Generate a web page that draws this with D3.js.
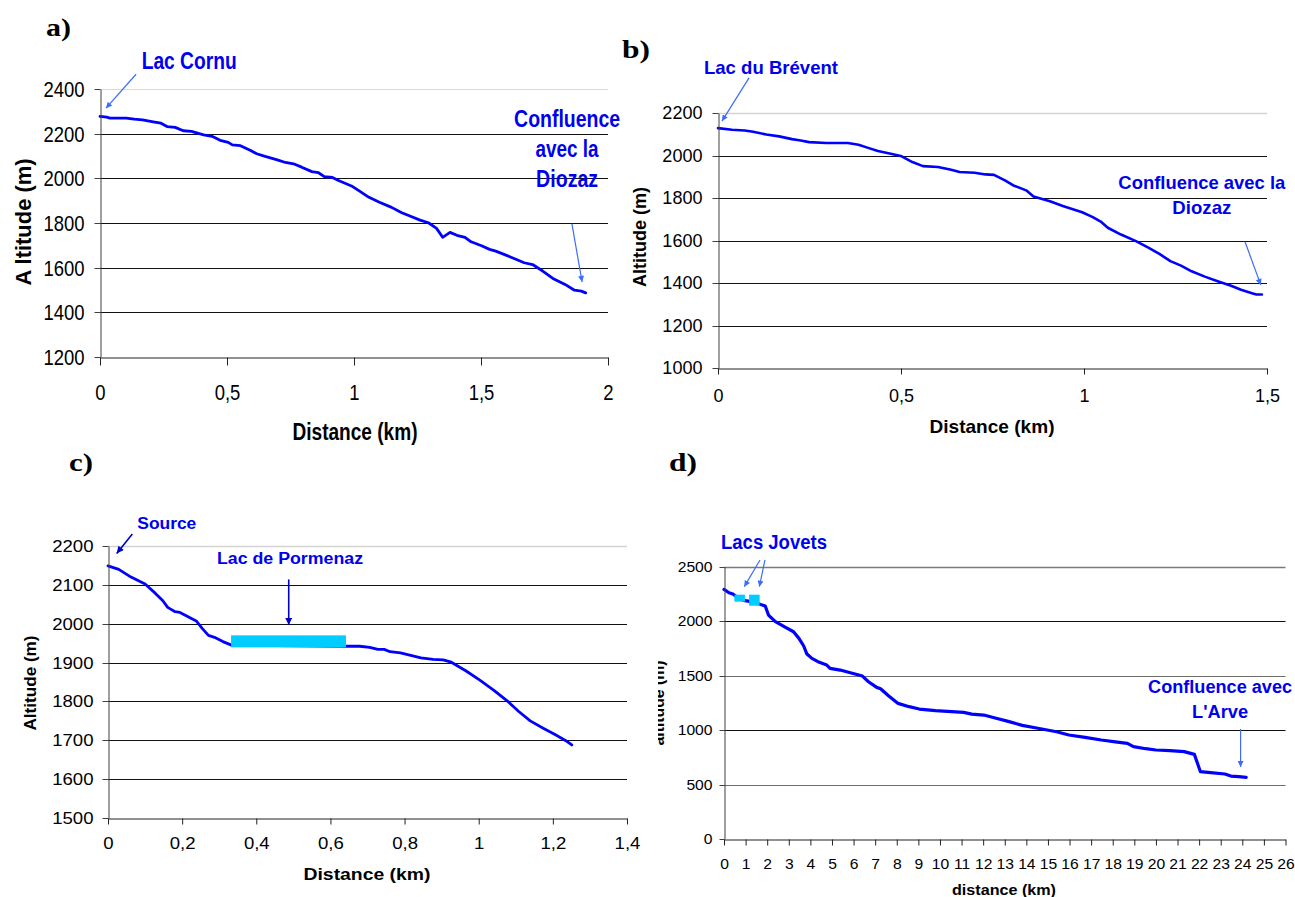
<!DOCTYPE html>
<html><head><meta charset="utf-8">
<script src="https://cdn.jsdelivr.net/npm/d3@7"></script>
<style>body{margin:0;background:#fff}svg{display:block}</style>
</head><body>
<svg id="chart" width="1295" height="897"></svg>
<script>
// ---------------- DATA ----------------
const distA = [0,0.026,0.039,0.103,0.135,0.167,0.215,0.240,0.264,0.296,0.328,0.360,0.408,0.441,0.473,0.505,0.521,0.553,0.593,0.617,0.650,0.698,0.730,0.762,0.794,0.834,0.859,0.883,0.915,0.939,0.990,1.019,1.059,1.100,1.148,1.188,1.220,1.260,1.293,1.325,1.349,1.378,1.405,1.437,1.461,1.502,1.534,1.558,1.598,1.630,1.670,1.703,1.743,1.783,1.831,1.868,1.895,1.912];
const altA  = [2277,2274,2270,2270,2265,2262,2252,2247,2232,2228,2213,2210,2195,2188,2170,2161,2150,2146,2125,2110,2098,2083,2071,2065,2050,2030,2026,2008,2004,1990,1966,1945,1915,1893,1870,1846,1831,1813,1801,1776,1736,1758,1745,1736,1716,1698,1682,1674,1656,1641,1622,1614,1585,1552,1525,1499,1495,1487];

const distB = [0,0.038,0.073,0.096,0.132,0.167,0.202,0.226,0.249,0.296,0.355,0.384,0.408,0.437,0.472,0.502,0.531,0.560,0.601,0.637,0.660,0.701,0.731,0.754,0.784,0.807,0.842,0.862,0.907,0.942,0.995,1.024,1.048,1.065,1.101,1.142,1.177,1.206,1.236,1.265,1.294,1.330,1.371,1.400,1.429,1.459,1.471,1.486];
const altB  = [2129,2121,2118,2112,2099,2090,2077,2071,2063,2059,2059,2051,2037,2021,2008,1996,1969,1950,1946,1933,1922,1919,1911,1909,1883,1859,1836,1807,1785,1762,1733,1710,1686,1660,1628,1597,1565,1537,1503,1482,1455,1430,1405,1388,1368,1352,1346,1346];

const distC = [0,0.029,0.062,0.100,0.128,0.148,0.161,0.181,0.194,0.216,0.238,0.254,0.271,0.287,0.310,0.333,0.643,0.679,0.706,0.728,0.745,0.761,0.789,0.811,0.844,0.877,0.904,0.926,0.965,1.003,1.042,1.081,1.108,1.139,1.174,1.207,1.235,1.251];
const altC  = [2149,2140,2120,2102,2078,2059,2042,2031,2029,2018,2007,1988,1970,1965,1954,1945,1942,1942,1939,1934,1934,1928,1925,1920,1912,1908,1907,1901,1879,1855,1828,1798,1774,1750,1731,1714,1699,1688];
const lakesC = [{d0:0.332, d1:0.642, a0:1939, a1:1970}];

const distD = [0,0.23,0.41,0.69,0.97,1.26,1.63,1.91,2.06,2.38,2.85,3.22,3.47,3.69,3.84,4.07,4.35,4.76,4.91,5.38,5.85,6.41,6.69,7.07,7.25,7.63,8.06,8.57,9.04,9.79,11.10,11.47,12.03,12.60,13.16,13.81,14.47,15.40,15.97,16.72,17.47,18.21,18.68,18.96,19.53,20.00,20.65,21.31,21.78,22.06,22.53,23.19,23.47,23.84,24.18];
const altD  = [2292,2261,2249,2209,2188,2179,2157,2139,2056,1995,1943,1903,1842,1772,1698,1658,1628,1597,1567,1551,1527,1496,1444,1392,1380,1313,1245,1215,1193,1178,1163,1147,1138,1108,1080,1043,1019,985,955,933,909,890,878,848,829,817,811,802,777,618,609,597,578,572,566];
const lakesD = [{d0:0.48, d1:0.97, a0:2179, a1:2243},{d0:1.16, d1:1.65, a0:2142, a1:2243}];

// tick values
const xTicksA = [0,0.5,1,1.5,2];
const yTicksA = [1200,1400,1600,1800,2000,2200,2400];
const xTicksB = [0,0.5,1,1.5];
const yTicksB = [1000,1200,1400,1600,1800,2000,2200];
const xTicksC = [0,0.2,0.4,0.6,0.8,1,1.2,1.4];
const yTicksC = [1500,1600,1700,1800,1900,2000,2100,2200];
const xTicksD = d3.range(0,27);
const yTicksD = [0,500,1000,1500,2000,2500];

// ---------------- DRAWING ----------------
const svg = d3.select('#chart');
const defs = svg.append('defs');
function addMarker(id,color,w,h){
  defs.append('marker').attr('id',id).attr('viewBox','0 0 10 10')
    .attr('refX',10).attr('refY',5).attr('markerWidth',w).attr('markerHeight',h)
    .attr('orient','auto').attr('markerUnits','userSpaceOnUse')
    .append('path').attr('d','M0,0 L10,5 L0,10 z').attr('fill',color);
}
addMarker('mLight','#3b6cff',8,6);
addMarker('mDark','#0000c8',9,7);

const comma = d => String(d).replace('.',',');
const FONT = 'Arial, "Liberation Sans", Helvetica, sans-serif';

function label(g, text, x, y, o){
  const t = g.append('text').attr('x',x).attr('y',y).text(text)
    .attr('font-family', o.family || FONT)
    .attr('font-size', o.size).attr('font-weight', o.weight || 'bold')
    .attr('fill', o.color || '#000')
    .attr('text-anchor', o.anchor || 'start');
  if (o.len) t.attr('textLength', o.len).attr('lengthAdjust','spacingAndGlyphs');
  if (o.rotate) t.attr('transform', `rotate(-90,${x},${y})`);
  return t;
}

function drawPanel(p){
  const g = svg.append('g');
  const x = d3.scaleLinear().domain(p.xDomain).range([p.L, p.R]);
  const y = d3.scaleLinear().domain(p.yDomain).range([p.B, p.T]);

  // gridlines
  g.append('g').selectAll('line').data(p.yTicks.filter(v => v !== p.yDomain[0])).join('line')
    .attr('x1', p.L).attr('x2', p.R)
    .attr('y1', d => Math.round(y(d))+0.5).attr('y2', d => Math.round(y(d))+0.5)
    .attr('stroke', d => d === p.yDomain[1] ? p.topGrid : (p.gridColor ? p.gridColor(d) : '#111'))
    .attr('stroke-width', d => d === p.yDomain[1] ? p.topGridW : 1);

  // line & lakes
  const line = d3.line().x(d => x(d[0])).y(d => y(d[1]));
  const pts = d3.zip(p.dist, p.alt);
  g.append('path').datum(pts).attr('d', line).attr('fill','none')
    .attr('stroke','#0000ff').attr('stroke-width', p.lineW).attr('stroke-linejoin','round').attr('stroke-linecap','round');
  g.append('g').selectAll('rect').data(p.lakes || []).join('rect')
    .attr('x', d => x(d.d0)).attr('width', d => x(d.d1)-x(d.d0))
    .attr('y', d => y(d.a1)).attr('height', d => y(d.a0)-y(d.a1))
    .attr('fill','#00ccff');

  // y axis
  const ya = g.append('g').attr('transform',`translate(${Math.round(p.L)+0.5},0)`)
    .call(d3.axisLeft(y).tickValues(p.yTicks).tickSizeInner(p.yTick).tickSizeOuter(0).tickPadding(0).tickFormat(d3.format('d')));
  ya.select('.domain').attr('stroke','#404040');
  ya.selectAll('.tick line').attr('stroke','#404040');
  ya.selectAll('.tick text').attr('font-family',FONT).attr('font-size',p.tickSize).attr('fill','#000')
    .attr('x', -p.yLabGap/p.sx).attr('transform',`scale(${p.sx},1)`);
  ya.selectAll('.tick').attr('transform', d => `translate(0,${Math.round(y(d))+0.5})`);

  // x axis
  const xa = g.append('g').attr('transform',`translate(0,${Math.round(p.B)+0.5})`)
    .call(d3.axisBottom(x).tickValues(p.xTicks).tickSizeInner(p.xTick).tickSizeOuter(0).tickPadding(0).tickFormat(comma));
  xa.select('.domain').attr('stroke','#222');
  xa.selectAll('.tick line').attr('stroke','#222');
  xa.selectAll('.tick text').attr('font-family',FONT).attr('font-size',p.tickSize).attr('fill','#000')
    .attr('y', p.xLabTop).attr('dy','0.71em')
    .attr('transform',`scale(${p.sx},1)`);

  // annotations in data coordinates
  (p.notes || []).forEach(n => {
    label(g, n.t, x(n.d), y(n.a), {size:n.size, len:n.len, anchor:n.anchor, color:'#0000f0'});
  });
  (p.arrows || []).forEach(a => {
    g.append('line').attr('x1', x(a.d1)).attr('y1', y(a.a1)).attr('x2', x(a.d2)).attr('y2', y(a.a2))
      .attr('stroke', a.dark ? '#0000c8' : '#3b6cff').attr('stroke-width', a.dark ? 1.6 : 1.2)
      .attr('marker-end', a.dark ? 'url(#mDark)' : 'url(#mLight)');
  });
  return g;
}

// Panel a
const gA = drawPanel({
  dist:distA, alt:altA, xDomain:[0,2], yDomain:[1200,2400], xTicks:xTicksA, yTicks:yTicksA,
  L:100, R:608, T:89, B:357, topGrid:'#d9d9d9', topGridW:1.2, lineW:2.8,
  yTick:6, xTick:8, yLabGap:16, xLabTop:27, tickSize:22, sx:0.84,
  notes:[
    {t:'Lac Cornu', d:0.164, a:2488, size:23, len:95, anchor:'start'},
    {t:'Confluence', d:1.839, a:2231, size:23, len:106, anchor:'middle'},
    {t:'avec la', d:1.839, a:2097, size:23, len:63, anchor:'middle'},
    {t:'Diozaz', d:1.839, a:1960, size:23, len:62, anchor:'middle'}
  ],
  arrows:[
    {d1:0.142, a1:2466, d2:0.0236, a2:2314},
    {d1:1.858, a1:1796, d2:1.898, a2:1536}
  ]
});
label(gA, 'Distance (km)', 355, 440, {size:23, len:125, anchor:'middle'});
label(gA, 'A ltitude (m)', 31, 222, {size:22, len:127, anchor:'middle', rotate:true});
label(gA, 'a)', 46, 36, {size:25, len:25, family:'"Liberation Serif", "Times New Roman", serif'});

// Panel b
const gB = drawPanel({
  dist:distB, alt:altB, xDomain:[0,1.5], yDomain:[1000,2200], xTicks:xTicksB, yTicks:yTicksB,
  L:718, R:1267, T:113, B:368, topGrid:'#d4d4d4', topGridW:1.5, lineW:2.6,
  yTick:6, xTick:6, yLabGap:16, xLabTop:20.5, tickSize:17.7, sx:1.02,
  notes:[
    {t:'Lac du Brévent', d:-0.0383, a:2383.5, size:18.6, len:134, anchor:'start'},
    {t:'Confluence avec la', d:1.322, a:1841, size:18.6, len:167, anchor:'middle'},
    {t:'Diozaz', d:1.322, a:1725, size:18.6, len:59, anchor:'middle'}
  ],
  arrows:[
    {d1:0.0847, a1:2365, d2:0.0109, a2:2162},
    {d1:1.440, a1:1594, d2:1.483, a2:1391}
  ]
});
label(gB, 'Distance  (km)', 992, 432.5, {size:18.5, len:125, anchor:'middle'});
label(gB, 'Altitude (m)', 646, 237, {size:18, len:100, anchor:'middle', rotate:true});
label(gB, 'b)', 622, 58, {size:25, len:28, family:'"Liberation Serif", "Times New Roman", serif'});

// Panel c
const gC = drawPanel({
  dist:distC, alt:altC, lakes:lakesC, xDomain:[0,1.4], yDomain:[1500,2200], xTicks:xTicksC, yTicks:yTicksC,
  L:108, R:627, T:546, B:818, topGrid:'#d4d4d4', topGridW:1.5, lineW:2.8,
  yTick:6, xTick:6, yLabGap:15, xLabTop:19, tickSize:16.3, sx:1.14,
  notes:[
    {t:'Source', d:0.079, a:2243, size:15.6, len:59, anchor:'start'},
    {t:'Lac de Pormenaz', d:0.491, a:2153, size:15.6, len:146, anchor:'middle'}
  ],
  arrows:[
    {d1:0.0656, a1:2231, d2:0.0235, a2:2181, dark:true},
    {d1:0.4875, a1:2114, d2:0.4875, a2:1997, dark:true}
  ]
});
label(gC, 'Distance (km)', 367, 880, {size:16.5, len:127, anchor:'middle'});
label(gC, 'Altitude (m)', 36, 683, {size:17, len:95, anchor:'middle', rotate:true});
label(gC, 'c)', 69, 471, {size:25, len:24, family:'"Liberation Serif", "Times New Roman", serif'});

// Panel d
const gD = drawPanel({
  dist:distD, alt:altD, lakes:lakesD, xDomain:[0,26], yDomain:[0,2500], xTicks:xTicksD, yTicks:yTicksD,
  L:724, R:1285.5, T:566.7, B:839, topGrid:'#7a7a7a', topGridW:1.3, lineW:3.2,
  gridColor: d => (d === 1500 || d === 500) ? '#6e6e6e' : '#111',
  yTick:5, xTick:6, yLabGap:12, xLabTop:19, tickSize:14.5, sx:1.08,
  notes:[
    {t:'Lacs Jovets', d:-0.139, a:2660, size:20, len:106, anchor:'start'},
    {t:'Confluence avec', d:22.97, a:1338, size:18, len:144, anchor:'middle'},
    {t:"L'Arve", d:22.97, a:1108, size:19, len:56, anchor:'middle'}
  ],
  arrows:[
    {d1:1.667, a1:2562, d2:0.94, a2:2317},
    {d1:1.898, a1:2562, d2:1.635, a2:2317},
    {d1:23.92, a1:1010, d2:23.92, a2:661}
  ]
});
label(gD, 'distance  (km)', 1004, 895, {size:15, len:104, anchor:'middle'});
defs.append('clipPath').attr('id','clipD').append('rect').attr('x',658).attr('y',600).attr('width',60).attr('height',200);
const gDt = svg.append('g').attr('clip-path','url(#clipD)');
label(gDt, 'altitude (m)', 664, 703, {size:16, len:85, anchor:'middle', rotate:true});
label(gD, 'd)', 669, 471, {size:25, len:28, family:'"Liberation Serif", "Times New Roman", serif'});
</script>
</body></html>
